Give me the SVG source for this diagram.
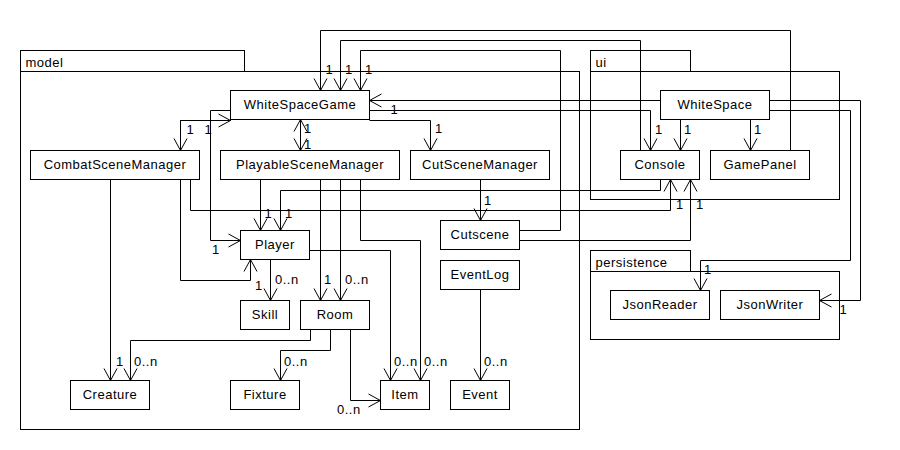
<svg xmlns="http://www.w3.org/2000/svg" width="900" height="450" viewBox="0 0 900 450">
<style>
.box{fill:#fff;stroke:#000;stroke-width:1}
.pkg{fill:none;stroke:#000;stroke-width:1}
.t{font-family:"Liberation Sans",Arial,sans-serif;font-size:13px;letter-spacing:0.5px;fill:#000;text-anchor:middle}
.pl{font-family:"Liberation Sans",Arial,sans-serif;font-size:13px;letter-spacing:0.5px;fill:#000}
.lb{font-family:"Liberation Sans",Arial,sans-serif;font-size:13px;letter-spacing:0.5px;fill:#000}
.e{fill:none;stroke:#000;stroke-width:1;marker-end:url(#a)}
</style>
<defs>
<marker id="a" markerWidth="14" markerHeight="14" refX="12" refY="7" orient="auto" markerUnits="userSpaceOnUse" viewBox="0 0 14 14" overflow="visible">
<path d="M0,0.5 L12,7 L0,13.5" fill="none" stroke="#000" stroke-width="1"/>
</marker>
</defs>
<rect x="0" y="0" width="900" height="450" fill="#fff"/>
<g transform="translate(0.5,0.5)">
<g id="pkg-model">
<rect class="pkg" x="20" y="50" width="224" height="21"/>
<rect class="pkg" x="20" y="71" width="559" height="358"/>
<text class="pl" x="25" y="66">model</text>
</g>
<g id="pkg-ui">
<rect class="pkg" x="590" y="50" width="100" height="21"/>
<rect class="pkg" x="590" y="71" width="249" height="128"/>
<text class="pl" x="595" y="66">ui</text>
</g>
<g id="pkg-persistence">
<rect class="pkg" x="590" y="250" width="100" height="21"/>
<rect class="pkg" x="590" y="271" width="249" height="68"/>
<text class="pl" x="595" y="266">persistence</text>
</g>
<g id="connectors">
<path class="e" d="M180,150 V120 H230"/>
<path class="e" d="M230,120 H180 V150"/>
<path class="e" d="M230,110 H210 V240 H240"/>
<path class="e" d="M300,150 V119"/>
<path class="e" d="M300,119 V150"/>
<path class="e" d="M369,120 H430 V150"/>
<path class="e" d="M660,100 H369"/>
<path class="e" d="M369,110 H650 V150"/>
<path class="e" d="M790,150 V30 H320 V90"/>
<path class="e" d="M640,150 V40 H340 V90"/>
<path class="e" d="M519,230 H560 V50 H360 V90"/>
<path class="e" d="M480,179 V220"/>
<path class="e" d="M110,179 V380"/>
<path class="e" d="M310,329 V340 H130 V380"/>
<path class="e" d="M180,179 V280 H250 V259"/>
<path class="e" d="M190,179 V210 H670 V179"/>
<path class="e" d="M260,179 V230"/>
<path class="e" d="M660,179 V190 H280 V230"/>
<path class="e" d="M270,259 V300"/>
<path class="e" d="M320,179 V300"/>
<path class="e" d="M340,179 V300"/>
<path class="e" d="M360,179 V240 H420 V380"/>
<path class="e" d="M309,250 H390 V380"/>
<path class="e" d="M330,329 V350 H280 V380"/>
<path class="e" d="M350,329 V400 H380"/>
<path class="e" d="M480,289 V380"/>
<path class="e" d="M519,240 H690 V179"/>
<path class="e" d="M680,119 V150"/>
<path class="e" d="M750,119 V150"/>
<path class="e" d="M769,100 H860 V300 H819"/>
<path class="e" d="M769,110 H850 V260 H700 V290"/>
<text class="lb" x="186" y="133">1</text>
<text class="lb" x="204" y="133">1</text>
<text class="lb" x="211.5" y="253">1</text>
<text class="lb" x="303.5" y="132">1</text>
<text class="lb" x="303.5" y="148">1</text>
<text class="lb" x="434.5" y="132">1</text>
<text class="lb" x="390" y="113">1</text>
<text class="lb" x="654.5" y="133">1</text>
<text class="lb" x="325" y="73">1</text>
<text class="lb" x="344.5" y="73">1</text>
<text class="lb" x="364.5" y="73">1</text>
<text class="lb" x="483.5" y="204">1</text>
<text class="lb" x="115.5" y="365">1</text>
<text class="lb" x="133.5" y="365">0..n</text>
<text class="lb" x="254.5" y="289">1</text>
<text class="lb" x="675.5" y="208">1</text>
<text class="lb" x="264" y="217">1</text>
<text class="lb" x="284.5" y="217">1</text>
<text class="lb" x="274.5" y="283">0..n</text>
<text class="lb" x="323.5" y="283">1</text>
<text class="lb" x="344.5" y="283">0..n</text>
<text class="lb" x="423.5" y="365">0..n</text>
<text class="lb" x="393.5" y="365">0..n</text>
<text class="lb" x="283.5" y="365">0..n</text>
<text class="lb" x="336.5" y="413">0..n</text>
<text class="lb" x="483.5" y="365">0..n</text>
<text class="lb" x="695.5" y="208">1</text>
<text class="lb" x="683.5" y="133">1</text>
<text class="lb" x="753.5" y="133">1</text>
<text class="lb" x="839" y="313">1</text>
<text class="lb" x="703.5" y="273">1</text>
</g>
<g id="WhiteSpaceGame"><rect class="box" x="230" y="90" width="139" height="29"/><text class="t" x="299.5" y="108">WhiteSpaceGame</text></g>
<g id="CombatSceneManager"><rect class="box" x="30" y="150" width="169" height="29"/><text class="t" x="114.5" y="168">CombatSceneManager</text></g>
<g id="PlayableSceneManager"><rect class="box" x="220" y="150" width="179" height="29"/><text class="t" x="309.5" y="168">PlayableSceneManager</text></g>
<g id="CutSceneManager"><rect class="box" x="410" y="150" width="139" height="29"/><text class="t" x="479.5" y="168">CutSceneManager</text></g>
<g id="Player"><rect class="box" x="240" y="230" width="69" height="29"/><text class="t" x="274.5" y="248">Player</text></g>
<g id="Cutscene"><rect class="box" x="440" y="220" width="79" height="29"/><text class="t" x="479.5" y="238">Cutscene</text></g>
<g id="EventLog"><rect class="box" x="440" y="260" width="79" height="29"/><text class="t" x="479.5" y="278">EventLog</text></g>
<g id="Skill"><rect class="box" x="240" y="300" width="49" height="29"/><text class="t" x="264.5" y="318">Skill</text></g>
<g id="Room"><rect class="box" x="300" y="300" width="69" height="29"/><text class="t" x="334.5" y="318">Room</text></g>
<g id="Creature"><rect class="box" x="70" y="380" width="79" height="29"/><text class="t" x="109.5" y="398">Creature</text></g>
<g id="Fixture"><rect class="box" x="230" y="380" width="69" height="29"/><text class="t" x="264.5" y="398">Fixture</text></g>
<g id="Item"><rect class="box" x="380" y="380" width="49" height="29"/><text class="t" x="404.5" y="398">Item</text></g>
<g id="Event"><rect class="box" x="450" y="380" width="59" height="29"/><text class="t" x="479.5" y="398">Event</text></g>
<g id="WhiteSpace"><rect class="box" x="660" y="90" width="109" height="29"/><text class="t" x="714.5" y="108">WhiteSpace</text></g>
<g id="Console"><rect class="box" x="620" y="150" width="79" height="29"/><text class="t" x="659.5" y="168">Console</text></g>
<g id="GamePanel"><rect class="box" x="710" y="150" width="99" height="29"/><text class="t" x="759.5" y="168">GamePanel</text></g>
<g id="JsonReader"><rect class="box" x="610" y="290" width="99" height="29"/><text class="t" x="659.5" y="308">JsonReader</text></g>
<g id="JsonWriter"><rect class="box" x="720" y="290" width="99" height="29"/><text class="t" x="769.5" y="308">JsonWriter</text></g>
</g>
</svg>
